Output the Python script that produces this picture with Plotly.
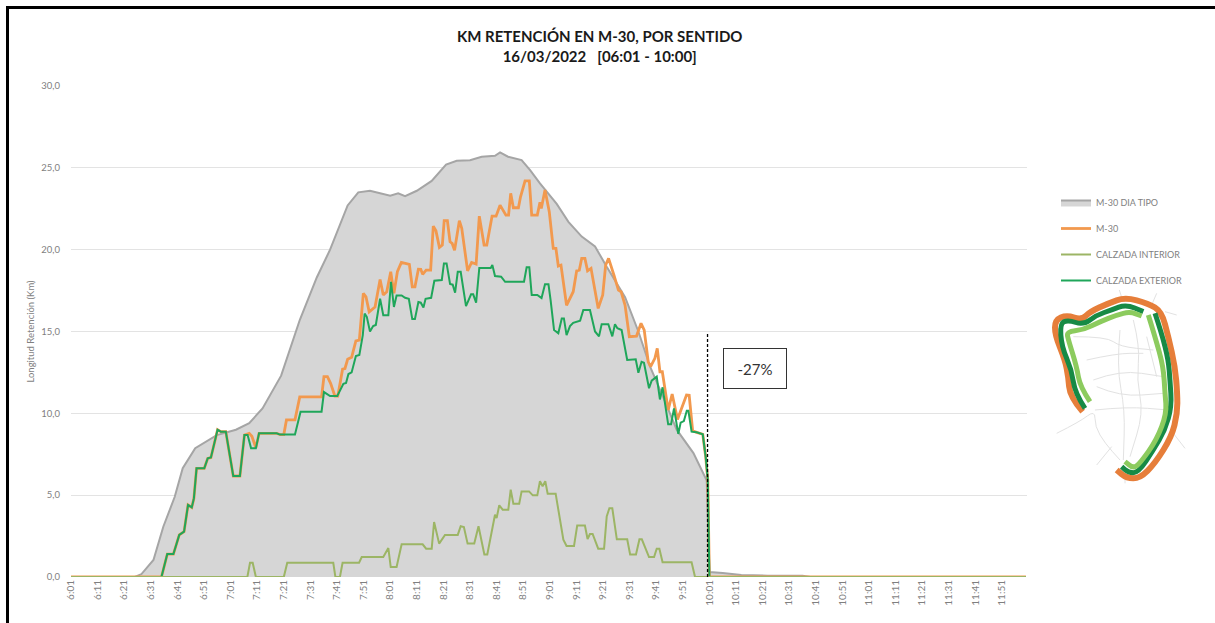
import plotly.graph_objects as go

# Minutes after 06:01 at the visible vertices of each series
tipo_t = [0,24,26.5,31,34.7,39,42,46.7,54.8,62,67,72,79,86,92.4,97.4,104,108,112.4,120,123,125.6,130,135.6,141,145,150,154.4,159.4,161.3,164.3,169.4,172.6,176.3,182.6,187,192,197,201.4,208.3,213.3,217.7,222.6,227.7,234,239,240,245,252,262,275,278,359]
tipo_v = [0,0,.18,1.04,3.07,4.9,6.65,7.87,8.67,9.0,9.4,10.3,12.3,15.7,18.3,20,22.7,23.5,23.6,23.3,23.44,23.27,23.6,24.2,25.2,25.43,25.47,25.68,25.74,25.94,25.68,25.47,24.86,24.05,22.8,21.7,20.8,20.2,18.95,17.1,15,12.85,11,9,7.57,5.9,.3,.25,.12,.08,.08,0,0]

m30_t = [0,34,36.2,38.5,40.7,42.5,44,45.4,46.2,47.2,50.1,51.4,52.6,55.1,56.3,58.2,61,63.5,65.2,67,68,69.5,70.7,77.3,78.6,80,81,84.2,86,94.2,95.1,96.4,97.6,99.2,100.3,102.1,103,104,105.5,107.1,108.4,109.9,110.9,112.1,114.3,116.2,117.4,118.7,120.2,121.4,122.7,124.2,127.2,128.3,129.3,130.6,131.5,132.2,133.5,135.2,136.2,137.2,138.5,139.6,140.3,141.5,142.5,143.3,144.2,146,146.9,149.1,150.6,152.3,153.5,155.3,156.3,158.3,159.8,161.3,163.5,164.5,165.3,166.3,168.2,169,170.7,172.3,173.2,175.3,176.3,176.8,178.2,179.8,181.3,182.3,183.2,184.2,186.3,188.2,188.8,190.1,191.1,192,193.2,194.2,195.5,198.2,199.9,201,202.1,204.1,205.8,206.8,208.3,209.9,212.6,214.3,215.5,217,217.9,219.5,220.4,221.4,222.3,224.5,226,228,229.6,231.4,232.4,233.7,235.2,237.5,238.6,239.4,240,359]
m30_v = [0,0,1.4,1.4,2.57,2.77,4.4,4.25,4.8,6.64,6.64,7.25,7.3,9.0,8.88,8.88,6.17,6.17,8.67,8.78,8.6,7.9,8.78,8.78,8.7,8.7,9.6,9.6,11,11,12.24,12.24,11.83,11.06,11.06,12.7,12.74,13.3,13.42,14.43,14.48,17.33,17.12,16.2,16.5,18.18,17.23,17.43,18.65,17.33,18.65,19.22,19.1,17.73,17.73,18.81,18.8,18.49,18.75,18.75,21.44,21.15,20.14,20.28,21.77,21.77,20.48,20.38,19.97,21.77,21.3,18.71,19.22,19.12,22.05,20.28,20.28,22.05,22.05,22.72,22.11,22.11,23.44,22.56,22.56,23.23,24.2,24.2,22.11,22.11,22.89,22.52,23.64,22.32,20.08,20.08,19,19.06,16.6,17.23,17.43,18.71,18.75,19.47,19.47,18.71,18.86,16.41,17.23,19.06,19.47,18.45,17.53,17.43,16.6,14.68,14.72,15.5,15.09,13.15,12.85,13.36,13.97,12.54,12.54,10.2,11.18,9.63,10.3,11.12,11.1,8.94,8.84,8.72,7.35,5.93,0,0]

interior_t = [0,66.3,67.3,68.3,69.5,80,81.3,98.6,99.4,101.1,102.1,108.3,109.3,117.4,119.3,120.2,122.4,124.3,132.2,133.5,135.6,136.5,138.4,140.6,145.4,146.5,147.7,149.1,151.6,153.2,155.4,156.5,159.4,160,161,162.3,164.4,165.3,166.3,168.5,169.4,172.2,173.6,175.3,176.3,177.3,178.3,179.2,182.2,185.1,186.3,189.1,190.3,193.2,194.2,195.1,196.1,198.2,200.4,201.4,202.4,203.5,205.2,209.1,210.2,212.4,213.7,214.6,217.3,219.2,220.2,221.2,222.4,233.3,234.6,359]
interior_v = [0,0,.87,.87,0,0,.87,.87,0,0,.87,.87,1.22,1.22,1.77,.61,.61,2,2,1.73,1.73,3.36,2.04,2.57,2.57,3.1,3.05,2.04,2.04,3.1,1.38,1.38,3.8,3.6,4.38,4.11,4.11,5.34,4.48,4.48,5.23,5.23,4.99,4.99,5.85,5.54,5.85,5.09,5.09,2.28,1.89,1.89,3.14,3.14,2.32,2.63,2.63,1.73,1.73,3.7,4.2,4.2,2.3,2.3,1.38,1.38,2.3,2.3,1.22,1.22,1.73,1.73,.9,.9,0,0]

exterior_t = [0,34,36.2,38.5,40.7,42.5,44,45.4,46.2,47.2,50.1,51.4,52.6,55.1,56.3,58.2,61,63.5,65.2,66.4,67.7,69.5,70.7,77.3,78.6,84.2,86.3,94.2,95.1,97.4,100.1,102.4,103.4,104.3,105.5,107.1,108.4,109.7,110.4,111.2,112.4,113.6,114.6,116.2,117.4,119.3,120.3,121.4,122.4,124.3,125.6,127,128.3,129.3,130.6,131.5,132.5,133.3,135.4,136.6,139.4,140.2,141.2,142.5,143.5,144.4,145.4,146.5,148.5,150.4,151.2,152.3,153.5,157.8,158.4,159.4,161.7,163.2,170.3,171.3,172.3,173.2,175.3,176.9,178.2,179.5,180.3,181.6,183.2,184.5,185.3,186.3,187.6,188.8,191.4,192.6,195.1,197,198.5,199.5,202,203.5,204.5,205.4,207,209.1,212.3,213.3,214.5,215.4,217.3,218.3,220.2,221.4,222.4,224.5,225.6,226.7,228.3,229.2,230.4,231.5,232.1,233.3,235.2,237.5,238.6,239.4,240,359]
exterior_v = [0,0,1.4,1.4,2.57,2.77,4.4,4.25,4.8,6.64,6.64,7.25,7.3,9.0,8.88,8.88,6.17,6.17,8.67,8.67,7.86,7.86,8.78,8.78,8.7,8.7,10.1,10.1,11.3,11.06,11.06,11.8,11.85,12.4,12.5,13.5,13.56,14.78,16.1,15.9,15,15.33,15.4,17,16,16,18.04,16.5,17.2,17.2,17.06,17,15.76,15.76,16.8,16.76,16.47,17,17.06,18.1,18.14,19.16,19.16,17.9,17.86,17.37,18.65,18.65,16.55,17.27,17.27,16.76,18.88,18.88,19.06,18.39,18.35,18.04,18.04,18.92,18.92,17.23,17.23,17.04,17.88,17.88,16.92,15.09,14.89,15.8,15.8,14.78,15.33,15.53,15.66,16.31,16.31,15,14.7,15.45,15.45,14.7,15.45,15.2,15.09,13.26,13.3,12.48,13.15,13.09,11.53,12,12.24,10.85,11.59,9.33,9.33,10.3,8.74,9.43,9.53,10.16,10.16,8.88,8.84,8.72,7.35,5.93,0,0]

tick_minutes = list(range(0, 351, 10))
tick_labels = ["6:01","6:11","6:21","6:31","6:41","6:51","7:01","7:11","7:21","7:31","7:41","7:51",
               "8:01","8:11","8:21","8:31","8:41","8:51","9:01","9:11","9:21","9:31","9:41","9:51",
               "10:01","10:11","10:21","10:31","10:41","10:51","11:01","11:11","11:21","11:31","11:41","11:51"]
y_ticks = [0, 5, 10, 15, 20, 25, 30]

W, H = 1215, 623
L, R, T, B = 71, 1027, 86, 577
FONT = "Lato"
GREY = "#7f7f7f"

fig = go.Figure()
fig.add_trace(go.Scatter(x=tipo_t, y=tipo_v, name="M-30 DIA TIPO", mode="lines", fill="tozeroy", legendrank=1,
                         fillcolor="#d6d6d6", line=dict(color="#a5a5a5", width=2), legendgroup="a"))
fig.add_trace(go.Scatter(x=m30_t, y=m30_v, name="M-30", mode="lines", legendrank=2,
                         line=dict(color="#f2994e", width=2.8), legendgroup="b"))
fig.add_trace(go.Scatter(x=exterior_t, y=exterior_v, name="CALZADA EXTERIOR", mode="lines", legendrank=4,
                         line=dict(color="#1fa65a", width=2), legendgroup="d"))
fig.add_trace(go.Scatter(x=interior_t, y=interior_v, name="CALZADA INTERIOR", mode="lines", legendrank=3,
                         line=dict(color="#9cb565", width=2), legendgroup="c"))


def to_paper(X, Y):
    return f"{(1040 + X / 3) / W:.5f},{1 - (180 + Y / 3) / H:.5f}"


def mp(points):
    """Map sketch: crop pixels -> paper-referenced SVG path, smoothed through midpoints."""
    parts = ["M" + to_paper(*points[0])]
    for i in range(1, len(points) - 1):
        mx = (points[i][0] + points[i + 1][0]) / 2
        my = (points[i][1] + points[i + 1][1]) / 2
        parts.append("Q" + to_paper(*points[i]) + " " + to_paper(mx, my))
    parts.append("L" + to_paper(*points[-1]))
    return " ".join(parts)


roads = [
    [(50,760),(120,725),(165,690),(165,740),(195,790),(240,840)],
    [(238,330),(245,352)], [(335,375),(350,340)], [(375,395),(410,405)],
    [(400,760),(435,805)], [(170,855),(215,800)], [(255,880),(255,910)],
    [(160,600),(240,570),(370,590)], [(240,450),(230,560),(255,690),(250,840)],
    [(280,420),(300,500),(290,600),(310,700),(270,830)], [(165,690),(260,680),(385,690)],
    [(100,470),(200,470),(240,500),(340,510)], [(170,620),(240,650),(370,640)],
    [(320,470),(350,590)], [(140,540),(230,520),(310,520)],
]
map_lines = [(r, "#e2e2e2", 1) for r in roads] + [
    ([(128,695),(90,650),(85,590),(75,540),(45,465),(45,420),(80,405),(125,420),(150,395),(205,370),(255,352),(325,370),(365,395),(385,470),(405,560),(412,640),(412,700),(395,770),(345,850),(300,895),(260,895),(230,870)], "#e67e3a", 6),
    ([(135,685),(105,640),(95,570),(65,500),(60,430),(85,420),(130,435),(170,405),(215,390),(258,373),(310,395)], "#178a45", 5),
    ([(345,400),(365,460),(385,540),(390,600),(395,680),(375,750),(340,810),(295,878),(265,878),(245,860)], "#178a45", 5),
    ([(150,665),(120,620),(110,560),(85,480),(80,455),(130,450),(180,425),(230,405),(270,395),(305,408)], "#8ccb5e", 5),
    ([(325,405),(345,470),(370,560),(375,640),(380,700),(350,780),(300,850),(280,865),(255,845)], "#8ccb5e", 5),
]
shapes = [dict(type="path", xref="paper", yref="paper", path=mp(p), line=dict(color=c, width=w), layer="above")
          for p, c, w in map_lines]
# frame of the screenshot: top and left edges only
shapes += [
    dict(type="line", xref="paper", yref="paper", x0=6/W, x1=1, y0=1-7.5/H, y1=1-7.5/H, line=dict(color="black", width=3)),
    dict(type="line", xref="paper", yref="paper", x0=7.5/W, x1=7.5/W, y0=0, y1=1-6/H, line=dict(color="black", width=3)),
    dict(type="line", xref="x", yref="y", x0=239.3, x1=239.3, y0=0, y1=14.9, line=dict(color="black", width=1.3, dash="3px,2px"), layer="above"),
]

fig.update_layout(
    width=W, height=H, autosize=False,
    margin=dict(l=0, r=0, t=0, b=0, pad=0, autoexpand=False),
    paper_bgcolor="white", plot_bgcolor="white",
    font=dict(family=FONT, color=GREY, size=9),
    separators=",.",
    shapes=shapes,
    xaxis=dict(domain=[L/W, R/W], range=[0, 359.4], tickmode="array", tickvals=tick_minutes, ticktext=tick_labels,
               tickangle=-90, tickfont=dict(size=10, color=GREY), showgrid=False, zeroline=False, automargin=False,
               showline=False, ticks="", ticklen=0),
    yaxis=dict(domain=[1-B/H, 1-T/H], range=[0, 30], tickmode="array", tickvals=y_ticks, tickformat=".1f", automargin=False,
               ticklabelstandoff=10,
               tickfont=dict(size=9.5, color=GREY), gridcolor="#e3e3e3", gridwidth=1, zeroline=False, showline=False,
               title=dict(text="Longitud Retención (Km)", font=dict(size=9.5, color=GREY), standoff=4)),
    legend=dict(x=1056/W, xanchor="left", y=1-188/H, yanchor="top", tracegroupgap=7, itemwidth=30,
                font=dict(size=9, color=GREY), bgcolor="rgba(0,0,0,0)", traceorder="grouped"),
    annotations=[
        dict(xref="paper", yref="paper", x=599/W, y=1-46.5/H, xanchor="center", yanchor="middle", showarrow=False, align="center",
             text="<b>KM RETENCIÓN EN M-30, POR SENTIDO</b><br><b>16/03/2022   [06:01 - 10:00]</b>",
             font=dict(family=FONT, size=15, color="#1a1a1a")),
        dict(xref="paper", yref="paper", x=755/W, y=1-368/H, xanchor="center", yanchor="middle", showarrow=False,
             text="-27%", width=58, height=35, bordercolor="#333333", borderwidth=1, borderpad=2, bgcolor="white",
             font=dict(family=FONT, size=15, color="#333333")),
    ],
)

fig.write_html("out.html", config=dict(displayModeBar=False), post_script="document.body.style.margin='0';")
